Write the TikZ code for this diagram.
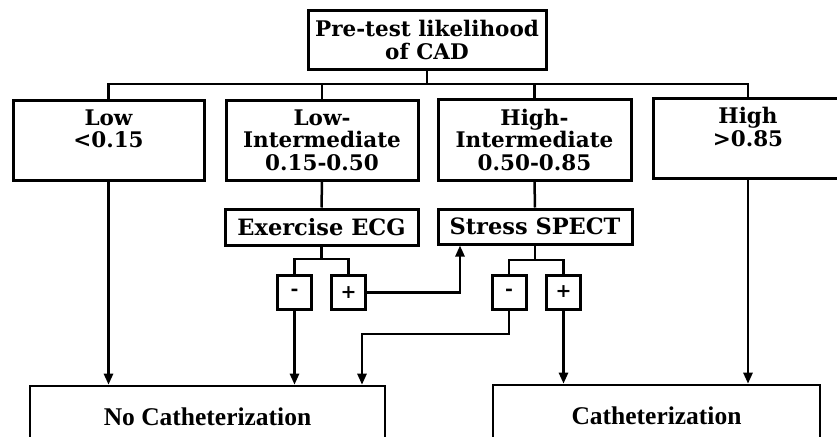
\documentclass[tikz,border=0pt]{standalone}
\usepackage{fontspec}
\setmainfont{DejaVu Serif}
\newfontfamily\catfont{Liberation Serif}
\usetikzlibrary{arrows.meta}
\begin{document}
\begin{tikzpicture}[x=1pt,y=-1pt,
    box/.style={draw,line width=3pt,inner sep=0pt,align=center,
      font=\bfseries\fontsize{21.5}{22.5}\selectfont},
    testbox/.style={box,font=\bfseries\fontsize{22.5}{24}\selectfont},
    sign/.style={draw,line width=3pt,inner sep=0pt,minimum size=34pt,
      font=\bfseries\fontsize{19}{20}\selectfont},
    endbox/.style={draw,line width=2.6pt,inner sep=0pt,
      font=\catfont\bfseries\fontsize{25.5}{30}\selectfont},
    arr/.style={-{Triangle[length=11pt,width=9pt]}}]
  \useasboundingbox (0,0) rectangle (837,436);
  \clip (0,0) rectangle (837,436);
  \fill[white] (0,0) rectangle (837,436);
  \node[box,minimum width=238pt,minimum height=58pt] (pretest) at (427,40)
    {Pre-test likelihood\\of CAD};
  \node[box,minimum width=191pt,minimum height=80pt] (low) at (108.5,140)
    {Low\\<0.15\\~};
  \node[box,minimum width=192pt,minimum height=80pt] (lowint) at (322,140)
    {Low-\\Intermediate\\0.15-0.50};
  \node[box,minimum width=193pt,minimum height=81pt] (highint) at (534.5,139.5)
    {High-\\Intermediate\\0.50-0.85};
  \node[box,minimum width=190pt,minimum height=80pt] (high) at (748,138)
    {High\\>0.85\\~};
  \node[testbox,minimum width=193pt,minimum height=36pt] (ecg) at (321.5,227)
    {Exercise ECG};
  \node[testbox,minimum width=194pt,minimum height=35pt] (spect) at (535,226.5)
    {Stress SPECT};
  \node[sign] (ecgneg) at (294.5,292.5) {-};
  \node[sign] (ecgpos) at (348.5,292.5) {+};
  \node[sign] (spectneg) at (509,292) {-};
  \node[sign] (spectpos) at (563.5,292) {+};
  \node[endbox,minimum width=355pt,minimum height=62pt] (nocath) at (207.5,417)
    {No Catheterization};
  \node[endbox,minimum width=327pt,minimum height=62pt] (cath) at (656.5,416)
    {Catheterization};
  % tree from the top box
  \coordinate (bus) at (427,84);
  \coordinate (ecgsplit) at (321.5,259);
  \coordinate (spectsplit) at (535,260);
  \coordinate (bend) at (362,334);
  \begin{scope}[line width=2.5pt]
    \draw (pretest.south) -- (bus);
    \draw (low.north) |- (bus) -| (high.north);
    \draw (lowint.north) -- (lowint.north |- bus);
    \draw (highint.north) -- (highint.north |- bus);
    \draw (lowint.south) -- (ecg.north);
    \draw (highint.south) -- (spect.north);
    \draw (ecg.south) -- (ecgsplit);
    \draw (ecgneg.north) |- (ecgsplit) -| (ecgpos.north);
    \draw (spect.south) -- (spectsplit);
    \draw (spectneg.north) |- (spectsplit) -| (spectpos.north);
    \draw[arr] (ecgpos.east) -| ([xshift=-75pt]spect.south);
    \draw[arr] (low.south) -- (low.south |- nocath.north);
    \draw[arr] (ecgneg.south) -- (ecgneg.south |- nocath.north);
    \draw[arr] (spectneg.south) |- (bend) -- (bend |- nocath.north);
    \draw[arr] (spectpos.south) -- (spectpos.south |- cath.north);
    \draw[arr] (high.south) -- (high.south |- cath.north);
  \end{scope}
\end{tikzpicture}
\end{document}
